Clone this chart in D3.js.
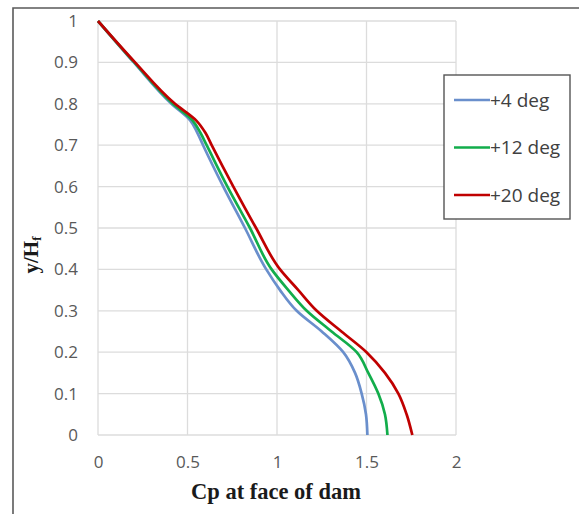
<!DOCTYPE html>
<html>
<head>
<meta charset="utf-8">
<script src="https://cdn.jsdelivr.net/npm/d3@7"></script>
<style>
  html, body { margin: 0; padding: 0; background: #ffffff; }
  svg { display: block; }
</style>
</head>
<body>
<svg id="chart" width="579" height="514"></svg>
<script>
// Pressure coefficient along the dam face, for three inclinations
const seriesNames = ["+4 deg", "+12 deg", "+20 deg"];
const seriesColors = ["#6a8fcc", "#12ad4b", "#c00000"];

const yLevels = [1, 0.9, 0.8, 0.76, 0.73, 0.7, 0.6, 0.5, 0.4, 0.35, 0.3, 0.25, 0.2, 0.15, 0.1, 0.05, 0];
const cpDeg4  = [0, 0.200, 0.410, 0.515, 0.555, 0.587, 0.700, 0.821, 0.940, 1.017, 1.110, 1.250, 1.370, 1.436, 1.473, 1.497, 1.505];
const cpDeg12 = [0, 0.203, 0.418, 0.528, 0.572, 0.607, 0.723, 0.849, 0.970, 1.063, 1.166, 1.305, 1.445, 1.510, 1.566, 1.603, 1.617];
const cpDeg20 = [0, 0.207, 0.430, 0.548, 0.600, 0.635, 0.756, 0.883, 1.017, 1.119, 1.222, 1.360, 1.500, 1.603, 1.678, 1.724, 1.756];

const xTicks = [0, 0.5, 1, 1.5, 2];
const yTicks = [0, 0.1, 0.2, 0.3, 0.4, 0.5, 0.6, 0.7, 0.8, 0.9, 1];

const svg = d3.select("#chart");

const plot = { left: 98, right: 456, top: 21, bottom: 435 };
const x = d3.scaleLinear().domain([0, 2]).range([plot.left, plot.right]);
const y = d3.scaleLinear().domain([0, 1]).range([plot.bottom, plot.top]);

// outer frame (left and top edges)
svg.append("path")
  .attr("d", "M13,514 L13,8 L579,8")
  .attr("fill", "none")
  .attr("stroke", "#5a5a5a")
  .attr("stroke-width", 1.6);

// gridlines
const grid = svg.append("g").attr("stroke", "#dcdcdc").attr("stroke-width", 1.3);
grid.selectAll("line.h").data(yTicks).join("line")
  .attr("x1", plot.left).attr("x2", plot.right)
  .attr("y1", d => y(d)).attr("y2", d => y(d));
grid.selectAll("line.v").data(xTicks).join("line")
  .attr("y1", plot.top).attr("y2", plot.bottom)
  .attr("x1", d => x(d)).attr("x2", d => x(d));

// axis tick labels
const tickFont = "'Open Sans', sans-serif";
const xAxis = svg.append("g")
  .attr("transform", `translate(0,${plot.bottom})`)
  .call(d3.axisBottom(x).tickValues(xTicks).tickSize(0).tickPadding(21).tickFormat(d3.format("")));
const yAxis = svg.append("g")
  .attr("transform", `translate(${plot.left},0)`)
  .call(d3.axisLeft(y).tickValues(yTicks).tickSize(0).tickPadding(20).tickFormat(d3.format("")));
[xAxis, yAxis].forEach(a => {
  a.select(".domain").remove();
  a.selectAll("text")
    .attr("font-family", tickFont)
    .attr("font-size", 17)
    .attr("fill", "#595959");
});

// curves
const series = [cpDeg4, cpDeg12, cpDeg20].map((vals, i) => ({
  name: seriesNames[i],
  color: seriesColors[i],
  points: vals.map((v, j) => ({ cp: v, h: yLevels[j] }))
}));

const line = d3.line()
  .x(d => x(d.cp))
  .y(d => y(d.h))
  .curve(d3.curveMonotoneY);

svg.append("g").selectAll("path")
  .data(series)
  .join("path")
  .attr("d", d => line(d.points))
  .attr("fill", "none")
  .attr("stroke", d => d.color)
  .attr("stroke-width", 2.7)
  .attr("stroke-linejoin", "round");

// axis titles
svg.append("text")
  .attr("x", 276).attr("y", 499)
  .attr("text-anchor", "middle")
  .attr("font-family", "'Liberation Serif', 'Times New Roman', serif")
  .attr("font-weight", "bold")
  .attr("font-size", 22.5)
  .attr("fill", "#1a1a1a")
  .text("Cp at face of dam");

const yTitle = svg.append("text")
  .attr("transform", "translate(38,255) rotate(-90)")
  .attr("text-anchor", "middle")
  .attr("font-family", "'Liberation Serif', 'Times New Roman', serif")
  .attr("font-weight", "bold")
  .attr("font-size", 21)
  .attr("fill", "#1a1a1a");
yTitle.append("tspan").text("y/H");
yTitle.append("tspan").attr("font-size", 13).attr("dy", 3).text("f");

// legend
const legend = svg.append("g");
legend.append("rect")
  .attr("x", 444).attr("y", 75)
  .attr("width", 126).attr("height", 144)
  .attr("fill", "#ffffff")
  .attr("stroke", "#555555")
  .attr("stroke-width", 1.4);
const items = legend.selectAll("g.item")
  .data(series)
  .join("g")
  .attr("transform", (d, i) => `translate(0,${100 + i * 47.5})`);
items.append("line")
  .attr("x1", 454).attr("x2", 490)
  .attr("y1", 0).attr("y2", 0)
  .attr("stroke", d => d.color)
  .attr("stroke-width", 2.6);
items.append("text")
  .attr("x", 490).attr("y", 0)
  .attr("dy", "0.35em")
  .attr("font-family", tickFont)
  .attr("font-size", 19)
  .attr("fill", "#404040")
  .text(d => d.name);
</script>
</body>
</html>
